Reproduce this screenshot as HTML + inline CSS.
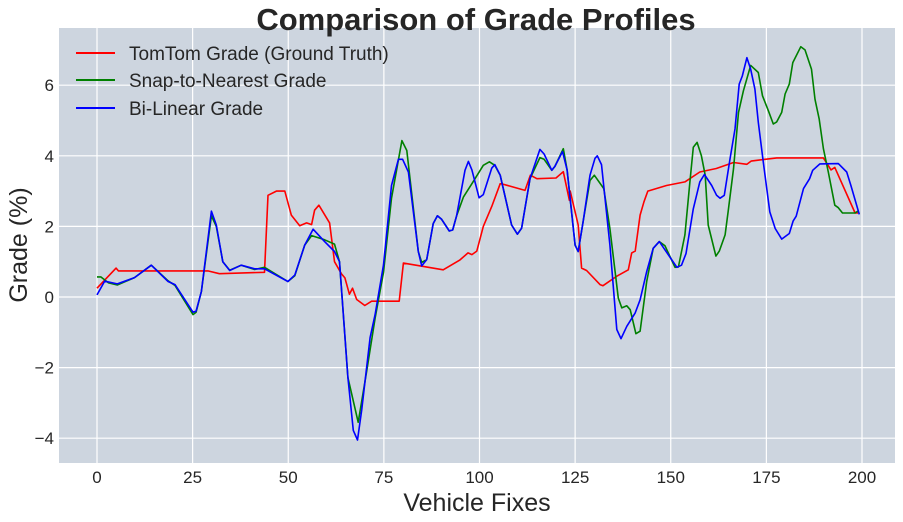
<!DOCTYPE html>
<html><head><meta charset="utf-8"><style>
body{margin:0;background:#fff;}
svg{display:block;font-family:"Liberation Sans",Arial,sans-serif;}
</style></head><body>
<svg id="chart" width="903" height="522">
<rect x="59" y="28" width="836" height="435" fill="#cdd5df"/>
<g id="grid"></g>
<g id="ticks"></g>
<g id="series"></g>
<text x="476" y="30" text-anchor="middle" font-size="31" font-weight="bold" fill="#262626">Comparison of Grade Profiles</text>
<text x="477" y="511" text-anchor="middle" font-size="25" fill="#262626">Vehicle Fixes</text>
<text transform="translate(27,245) rotate(-90)" text-anchor="middle" font-size="25" fill="#262626">Grade (%)</text>
<g>
<g><line x1="76" y1="53" x2="115" y2="53" stroke="#ff0000" stroke-width="2"/><text x="129" y="60" font-size="19" fill="#262626">TomTom Grade (Ground Truth)</text></g>
<g><line x1="76" y1="80" x2="115" y2="80" stroke="#008000" stroke-width="2"/><text x="129" y="87" font-size="19" fill="#262626">Snap-to-Nearest Grade</text></g>
<g><line x1="76" y1="108" x2="115" y2="108" stroke="#0000ff" stroke-width="2"/><text x="129" y="115" font-size="19" fill="#262626">Bi-Linear Grade</text></g>
</g>
</svg>
<script>
const xTicks=[0,25,50,75,100,125,150,175,200];
const yTicks=[-4,-2,0,2,4,6];
const yTickLabels=["\u22124","\u22122","0","2","4","6"];
const redX=[0,5,5.6,29,32,43.8,44.7,46.9,49.1,50.8,53,54.8,56.1,56.9,58,60.8,62.1,63.9,64.8,66,66.8,67.9,70,71.8,79,80.1,90.5,94.9,97,98,99.3,101,103.2,105.4,106,111.9,113.3,115,120,121.9,123.5,123.7,125.8,126.7,128,131.5,132.3,135.9,138.9,139.8,140.7,142,143,144,148.9,153.7,157.6,161.9,166.4,169.9,171,177.7,189.9,191.9,192.9,198.2,199];
const redY=[0.25,0.82,0.74,0.74,0.66,0.7,2.88,3.0,3.0,2.32,2.02,2.1,2.05,2.46,2.6,2.1,1.0,0.66,0.54,0.08,0.25,-0.07,-0.24,-0.12,-0.12,0.96,0.77,1.05,1.25,1.2,1.3,2.0,2.56,3.21,3.2,3.02,3.45,3.35,3.37,3.55,2.74,3.0,2.04,0.82,0.75,0.35,0.32,0.59,0.77,1.25,1.3,2.32,2.7,3.0,3.16,3.26,3.54,3.64,3.81,3.76,3.85,3.94,3.94,3.6,3.67,2.38,2.38];
const greenX=[0,1,3,5.3,9.8,14.2,18.6,20.4,25.1,25.9,27.3,29.9,31.2,32.9,34.7,37.7,41.2,43.8,49.9,51.7,54.3,56.1,59.5,62.1,63.4,65.6,68.3,70.5,72.7,74.9,77,79.7,81,84,84.9,86.2,87.9,89,90.1,92.1,93,94,95.8,98.3,101,102.6,104,105.4,108.4,109.9,111,113.2,115.8,116.9,118.9,119.7,121.9,122.9,125,125.8,127.1,128.9,130,132.5,134.1,136.3,137.2,138.5,139.4,140.9,142,143.7,145.4,147,148.5,151.1,152,153.7,155,155.9,156.9,158,159,159.8,161.8,162.7,164.2,165,166.4,167.7,169,170.9,172.9,174,175.5,176.8,177.7,179,179.9,181,181.9,184,185.1,186.8,187.7,188.8,189.9,191.2,192.9,193.8,194.9,198.2,198.9];
const greenY=[0.57,0.57,0.4,0.34,0.55,0.9,0.46,0.33,-0.5,-0.43,0.16,2.3,2.0,1.0,0.76,0.9,0.78,0.84,0.44,0.6,1.47,1.74,1.62,1.5,1.0,-2.28,-3.55,-2.1,-0.6,0.7,2.8,4.43,4.15,1.29,0.98,1.06,2.08,2.3,2.2,1.87,1.9,2.3,2.83,3.26,3.73,3.83,3.73,3.45,2.04,1.78,1.95,3.35,3.95,3.9,3.59,3.7,4.2,3.6,1.47,1.29,2.15,3.3,3.45,3.07,1.94,-0.03,-0.31,-0.25,-0.36,-1.04,-0.97,0.44,1.38,1.57,1.45,0.84,0.85,1.76,3.26,4.24,4.38,4.0,3.45,2.04,1.16,1.3,1.76,2.41,3.63,5.23,5.84,6.56,6.36,5.7,5.28,4.9,4.96,5.23,5.75,6.03,6.64,7.09,7.0,6.45,5.6,5.04,4.2,3.54,2.6,2.53,2.38,2.38,2.43];
const blueX=[0,2,5.3,9.8,14.2,18.6,20.4,25.1,25.9,27.3,29.9,31.2,32.9,34.7,37.7,41.2,43.8,49.9,51.7,54.3,56.5,59.5,62.1,63.4,65.6,67,68.1,69.2,71.4,72.7,74.9,77,78.8,79.9,81.4,84,84.9,86.2,87.9,89,90.1,92.1,93,94,96.2,97.1,98,99.9,101,103.2,104,105.4,108.4,109.9,111,113.2,115.8,116.9,118.9,119.7,121.7,122.9,125,125.8,127.1,128.9,130.2,130.8,131.9,134.1,135.9,137,138.5,140.7,142,143.7,145.4,147,151.6,152.8,154,155.9,157.6,158.8,160.7,162,162.9,164,165.5,166.8,167.9,168.7,169.9,170.9,172,172.9,174.2,175.9,177.3,179,181,182,182.8,184.7,186.3,187.1,189,193.8,196,197.1,199.3];
const blueY=[0.06,0.45,0.37,0.55,0.9,0.44,0.35,-0.43,-0.4,0.16,2.43,2.04,1.0,0.75,0.9,0.8,0.8,0.44,0.62,1.47,1.92,1.57,1.29,1.0,-2.28,-3.78,-4.05,-3.2,-1.15,-0.5,0.91,3.16,3.9,3.9,3.54,1.29,0.88,1.06,2.08,2.3,2.2,1.87,1.9,2.3,3.59,3.84,3.6,2.81,2.9,3.65,3.75,3.45,2.04,1.78,1.95,3.35,4.18,4.05,3.59,3.7,4.12,3.6,1.47,1.29,2.15,3.45,3.93,4.0,3.75,1.47,-0.92,-1.18,-0.83,-0.45,-0.08,0.72,1.38,1.57,0.84,0.9,1.23,2.5,3.26,3.47,3.16,2.88,2.8,2.88,3.91,4.76,6.03,6.26,6.78,6.45,5.89,4.95,3.82,2.41,1.94,1.64,1.8,2.15,2.29,3.07,3.35,3.59,3.77,3.78,3.54,3.16,2.34];
const NS='http://www.w3.org/2000/svg';
const X0=59,X1=895,Y0=28,Y1=463;
function xs(v){return 97+v*(862-97)/200;}
function ys(v){return 297-v*35.3;}
const grid=document.getElementById('grid'),ticks=document.getElementById('ticks'),ser=document.getElementById('series');
xTicks.forEach(t=>{
 const l=document.createElementNS(NS,'line');
 l.setAttribute('x1',xs(t));l.setAttribute('x2',xs(t));l.setAttribute('y1',Y0);l.setAttribute('y2',Y1);
 l.setAttribute('stroke','#fff');l.setAttribute('stroke-width','1.2');
 
 
 grid.appendChild(l);
 const tx=document.createElementNS(NS,'text');
 tx.setAttribute('x',xs(t));tx.setAttribute('y',483);tx.setAttribute('text-anchor','middle');
 tx.setAttribute('font-size','17');tx.setAttribute('fill','#262626');tx.textContent=t;
 
 
 ticks.appendChild(tx);
});
yTicks.forEach((t,i)=>{
 const l=document.createElementNS(NS,'line');
 l.setAttribute('x1',X0);l.setAttribute('x2',X1);l.setAttribute('y1',ys(t));l.setAttribute('y2',ys(t));
 l.setAttribute('stroke','#fff');l.setAttribute('stroke-width','1.2');
 
 
 grid.appendChild(l);
 const tx=document.createElementNS(NS,'text');
 tx.setAttribute('x',54);tx.setAttribute('y',ys(t)+6);tx.setAttribute('text-anchor','end');
 tx.setAttribute('font-size','17');tx.setAttribute('fill','#262626');tx.textContent=yTickLabels[i];
 
 
 ticks.appendChild(tx);
});
function line(xa,ya,color,name){
 const p=document.createElementNS(NS,'polyline');
 p.setAttribute('points',xa.map((x,i)=>xs(x).toFixed(1)+','+ys(ya[i]).toFixed(1)).join(' '));
 p.setAttribute('fill','none');p.setAttribute('stroke',color);p.setAttribute('stroke-width','1.6');
 p.setAttribute('stroke-linejoin','round');
 
 
 ser.appendChild(p);
}
line(redX,redY,'#ff0000','tomtom-grade-line');
line(greenX,greenY,'#008000','snap-to-nearest-line');
line(blueX,blueY,'#0000ff','bilinear-grade-line');
</script>
</body></html>
